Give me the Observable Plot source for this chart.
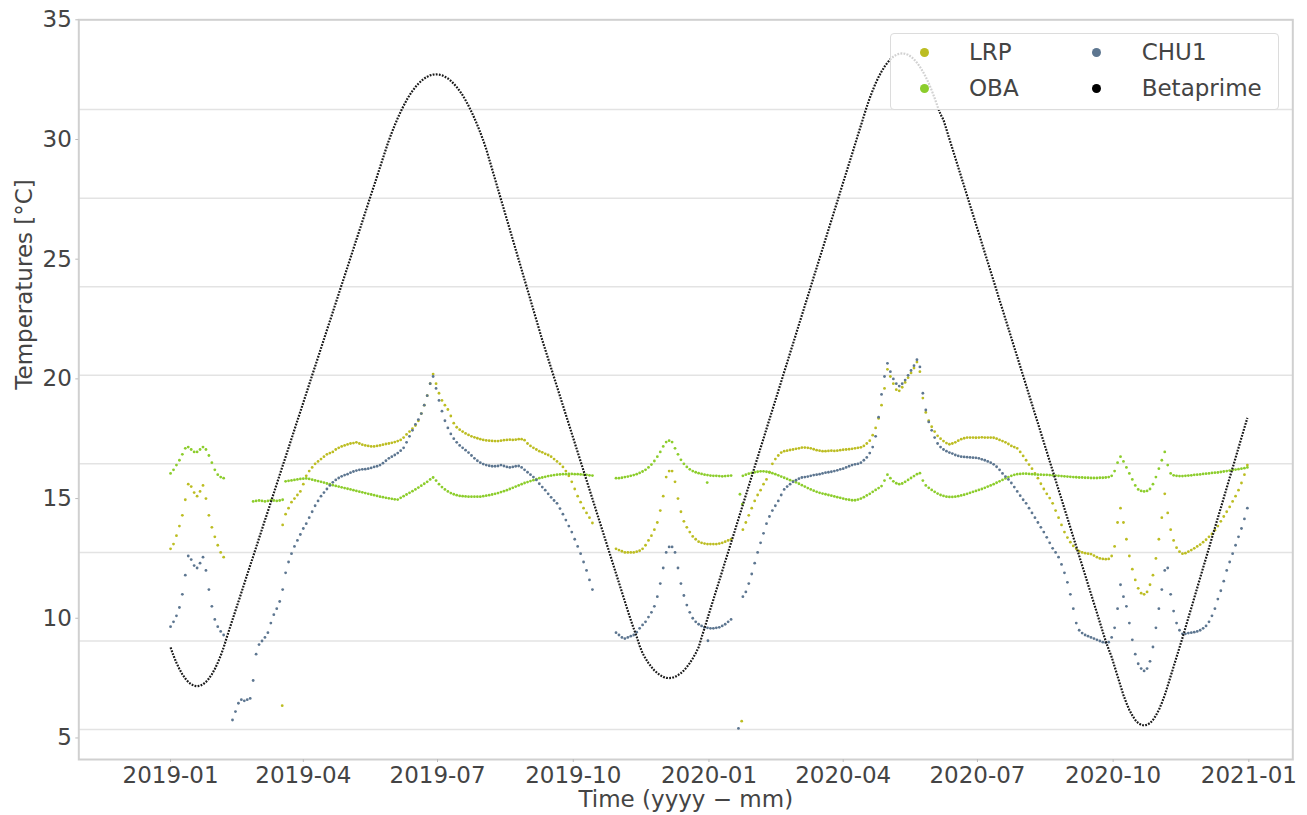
<!DOCTYPE html>
<html>
<head>
<meta charset="utf-8">
<script src="https://cdn.jsdelivr.net/npm/d3@7"></script>
<script src="https://cdn.jsdelivr.net/npm/@observablehq/plot@0.6"></script>
<style>
  html, body { margin: 0; padding: 0; background: #fff; }
  #wrap { position: relative; width: 1307px; height: 815px; overflow: hidden; font-family: "DejaVu Sans", sans-serif; }
  #legend { position: absolute; left: 890px; top: 33px; width: 389px; height: 77px; box-sizing: border-box;
            border: 1px solid #dcdcdc; border-radius: 4px; background: rgba(255,255,255,0.8); }
  .ldot { position: absolute; width: 9px; height: 9px; border-radius: 50%; }
  .ltxt { position: absolute; height: 28px; line-height: 28px; font-size: 23px; color: #444; white-space: nowrap; }
</style>
</head>
<body>
<div id="wrap"></div>
<script>
// ---------- data (readings every 2 days, day 0 = 2019-01-01) ----------
const SERIES = ["LRP", "OBA", "CHU1", "Betaprime"];
const COLORS = ["#bcbd22", "#8ccd2c", "#5d7690", "#000000"];
const X_TICKS = ["2019-01-01","2019-04-01","2019-07-01","2019-10-01","2020-01-01","2020-04-01","2020-07-01","2020-10-01","2021-01-01"];
const Y_TICKS = [5, 10, 15, 20, 25, 30, 35];
const GRID_VALUES = [5.35, 9.05, 12.75, 16.45, 20.15, 23.85, 27.55, 31.25];

const BETA_START = 0;
const BETA = [
  8.78, 8.44, 8.14, 7.88, 7.66, 7.48, 7.34, 7.24, 7.18, 7.16,
  7.18, 7.24, 7.34, 7.48, 7.66, 7.88, 8.14, 8.44, 8.78, 9.18,
  9.56, 9.94, 10.32, 10.69, 11.07, 11.45, 11.83, 12.21, 12.58, 12.96,
  13.34, 13.72, 14.1, 14.47, 14.85, 15.23, 15.61, 15.99, 16.37, 16.74,
  17.12, 17.5, 17.88, 18.26, 18.63, 19.01, 19.39, 19.77, 20.15, 20.52,
  20.9, 21.28, 21.66, 22.04, 22.41, 22.79, 23.17, 23.55, 23.93, 24.3,
  24.68, 25.06, 25.44, 25.82, 26.19, 26.57, 26.95, 27.33, 27.71, 28.08,
  28.46, 28.84, 29.22, 29.6, 29.96, 30.29, 30.6, 30.89, 31.16, 31.41,
  31.64, 31.85, 32.03, 32.19, 32.33, 32.45, 32.55, 32.62, 32.68, 32.71,
  32.72, 32.71, 32.68, 32.62, 32.55, 32.45, 32.33, 32.19, 32.03, 31.85,
  31.64, 31.41, 31.16, 30.89, 30.6, 30.29, 29.96, 29.6, 29.18, 28.76,
  28.34, 27.92, 27.5, 27.08, 26.66, 26.24, 25.82, 25.4, 24.98, 24.56,
  24.14, 23.72, 23.3, 22.88, 22.46, 22.04, 21.62, 21.23, 20.84, 20.45,
  20.06, 19.67, 19.28, 18.89, 18.5, 18.11, 17.72, 17.33, 16.94, 16.55,
  16.16, 15.77, 15.38, 14.99, 14.6, 14.21, 13.82, 13.43, 13.04, 12.65,
  12.26, 11.87, 11.48, 11.09, 10.7, 10.31, 9.93, 9.57, 9.23, 8.85,
  8.54, 8.32, 8.13, 7.96, 7.82, 7.71, 7.62, 7.55, 7.51, 7.5,
  7.51, 7.55, 7.62, 7.71, 7.82, 7.96, 8.13, 8.32, 8.54, 8.79,
  9.2, 9.59, 9.99, 10.39, 10.78, 11.18, 11.57, 11.97, 12.37, 12.76,
  13.16, 13.55, 13.95, 14.35, 14.74, 15.14, 15.53, 15.93, 16.33, 16.72,
  17.12, 17.51, 17.91, 18.31, 18.7, 19.1, 19.49, 19.89, 20.29, 20.68,
  21.08, 21.47, 21.87, 22.27, 22.66, 23.06, 23.45, 23.85, 24.25, 24.64,
  25.04, 25.43, 25.83, 26.23, 26.62, 27.02, 27.41, 27.81, 28.21, 28.6,
  29.0, 29.39, 29.79, 30.19, 30.58, 30.98, 31.37, 31.73, 32.05, 32.35,
  32.61, 32.84, 33.04, 33.21, 33.35, 33.46, 33.54, 33.58, 33.6, 33.58,
  33.54, 33.46, 33.35, 33.21, 33.04, 32.84, 32.61, 32.35, 32.05, 31.73,
  31.37, 31.05, 30.82, 30.42, 30.02, 29.63, 29.23, 28.84, 28.44, 28.05,
  27.65, 27.25, 26.86, 26.46, 26.07, 25.67, 25.27, 24.88, 24.48, 24.09,
  23.69, 23.29, 22.9, 22.5, 22.11, 21.71, 21.31, 20.92, 20.52, 20.13,
  19.73, 19.33, 18.94, 18.54, 18.15, 17.75, 17.35, 16.96, 16.56, 16.17,
  15.77, 15.37, 14.98, 14.58, 14.19, 13.79, 13.39, 13.0, 12.6, 12.21,
  11.81, 11.41, 11.02, 10.62, 10.23, 9.83, 9.43, 9.04, 8.7, 8.38,
  7.98, 7.58, 7.18, 6.79, 6.46, 6.17, 5.94, 5.75, 5.62, 5.55,
  5.52, 5.55, 5.62, 5.75, 5.94, 6.17, 6.46, 6.79, 7.18, 7.58,
  7.98, 8.38, 8.78, 9.18, 9.6, 10.02, 10.43, 10.85, 11.27, 11.69,
  12.11, 12.52, 12.94, 13.36, 13.78, 14.2, 14.61, 15.03, 15.45, 15.87,
  16.28, 16.7, 17.12, 17.54, 17.96, 18.37
];

const LRP_A_START = 0;
const LRP_A = [12.9, 13.1, 13.45, 13.85, 14.3, 14.95, 15.6, 15.5, 15.25, 15.1, 15.3, 15.55, 15.0, 14.3, 13.8, 13.4, 13.05, 12.75, 12.55];
const LRP_B_START = 76;
const LRP_B = [
  13.9, 14.35, 14.6, 14.85, 15.0, 15.15, 15.3, 15.6, 15.95, 16.15,
  16.3, 16.45, 16.55, 16.65, 16.75, 16.85, 16.9, 16.95, 17.05, 17.12,
  17.18, 17.22, 17.26, 17.3, 17.32, 17.35, 17.3, 17.25, 17.22, 17.2,
  17.18, 17.18, 17.2, 17.22, 17.25, 17.28, 17.3, 17.33, 17.36, 17.4,
  17.45, 17.55, 17.68, 17.8, 17.92, 18.05, 18.25, 18.55, 18.9, 19.3,
  19.8, 20.2, 19.8, 19.4, 19.1, 18.9, 18.72, 18.45, 18.15, 17.98,
  17.88, 17.8, 17.72, 17.66, 17.6, 17.56, 17.52, 17.48, 17.45, 17.43,
  17.42, 17.41, 17.4, 17.4, 17.42, 17.44, 17.45, 17.46, 17.45, 17.46,
  17.48, 17.48, 17.44, 17.3, 17.2, 17.12, 17.05, 16.98, 16.93, 16.87,
  16.82, 16.75, 16.65, 16.55, 16.45, 16.32, 16.15, 15.95, 15.7, 15.4,
  15.1, 14.85, 14.6, 14.4, 14.2, 13.98
];
const LRP_C_START = 302;
const LRP_C = [
  12.9, 12.85, 12.8, 12.75, 12.75, 12.75, 12.75, 12.78, 12.82, 12.9,
  13.05, 13.25, 13.45, 13.7, 14.0, 14.5, 15.1, 15.9, 16.15, 16.15,
  15.7, 15.0, 14.45, 14.05, 13.8, 13.6, 13.42, 13.3, 13.2, 13.15,
  13.12, 13.1, 13.1, 13.1, 13.1, 13.12, 13.15, 13.2, 13.25, 13.3
];
const LRP_D_START = 388;
const LRP_D = [
  13.7, 14.0, 14.3, 14.6, 14.9, 15.15, 15.35, 15.6, 15.8, 16.1,
  16.45, 16.65, 16.8, 16.92, 16.98, 17.0, 17.03, 17.05, 17.08, 17.1,
  17.13, 17.13, 17.12, 17.1, 17.06, 17.02, 17.0, 16.98, 16.98, 16.99,
  17.0, 16.99, 17.0, 17.02, 17.04, 17.05, 17.06, 17.08, 17.1, 17.12,
  17.14, 17.2, 17.3, 17.42, 17.65, 17.95, 18.35, 18.9, 19.6, 20.4,
  20.1, 19.8, 19.55, 19.5, 19.65, 19.85, 20.05, 20.25, 20.45, 20.7,
  20.3, 19.2, 18.6, 18.25, 18.0, 17.8, 17.62, 17.5, 17.4, 17.32,
  17.27, 17.3, 17.35, 17.42, 17.48, 17.52, 17.55, 17.55, 17.55, 17.54,
  17.55, 17.56, 17.55, 17.55, 17.55, 17.54, 17.5, 17.45, 17.4, 17.35,
  17.28, 17.2, 17.15, 17.1, 16.95, 16.78, 16.6, 16.42, 16.25, 16.05,
  15.85, 15.62, 15.4, 15.2, 15.02, 14.8, 14.5, 14.2, 13.9, 13.6,
  13.37, 13.18, 13.02, 12.9, 12.8, 12.75, 12.72, 12.7, 12.68, 12.62,
  12.55, 12.5, 12.48, 12.47, 12.48, 12.6, 13.0, 14.0, 14.6, 14.0,
  13.3, 12.6, 12.05, 11.6, 11.25, 11.05, 11.0, 11.1, 11.4, 11.8,
  12.5, 13.3, 14.2, 15.2, 14.4, 13.7, 13.25, 12.95, 12.78, 12.7,
  12.72, 12.78, 12.85, 12.92, 13.0, 13.08, 13.18, 13.28, 13.4, 13.52,
  13.68, 13.85, 14.05, 14.25, 14.45, 14.65, 14.88, 15.1, 15.35, 15.65,
  16.0, 16.4
];
const LRP_EXTRA_DAYS = [75.7, 387.2];
const LRP_EXTRA_VALUES = [6.35, 5.7];

const OBA_A_START = 0;
const OBA_A = [16.05, 16.2, 16.4, 16.6, 16.85, 17.1, 17.15, 17.05, 16.95, 16.95, 17.05, 17.15, 17.05, 16.8, 16.5, 16.2, 16.0, 15.9, 15.85];
const OBA_B_START = 56;
const OBA_B = [14.88, 14.9, 14.92, 14.9, 14.88, 14.9, 14.93, 14.92, 14.9, 14.92, 14.95];
const OBA_C_START = 78;
const OBA_C = [
  15.72, 15.74, 15.76, 15.78, 15.8, 15.82, 15.83, 15.84, 15.82, 15.79,
  15.76, 15.73, 15.7, 15.67, 15.63, 15.6, 15.56, 15.53, 15.5, 15.47,
  15.44, 15.41, 15.38, 15.35, 15.32, 15.29, 15.26, 15.23, 15.2, 15.17,
  15.14, 15.11, 15.08, 15.06, 15.03, 15.01, 14.99, 14.97, 14.96, 15.03,
  15.1, 15.17, 15.24, 15.31, 15.38, 15.46, 15.54, 15.62, 15.7, 15.8,
  15.88, 15.75, 15.6, 15.48, 15.38, 15.3, 15.23, 15.18, 15.14, 15.11,
  15.1, 15.09, 15.08, 15.08, 15.08, 15.08, 15.08, 15.1, 15.12, 15.14,
  15.17, 15.2, 15.23, 15.27, 15.31, 15.35, 15.4, 15.45, 15.5, 15.55,
  15.6, 15.65, 15.69, 15.73, 15.77, 15.81, 15.85, 15.88, 15.91, 15.94,
  15.96, 15.98, 16.0, 16.01, 16.02, 16.02, 16.03, 16.03, 16.02, 16.02,
  16.01, 16.0, 15.99, 15.97, 15.96
];
const OBA_D_START = 302;
const OBA_D = [
  15.85, 15.85, 15.87, 15.9, 15.92, 15.95, 15.98, 16.02, 16.07, 16.13,
  16.2, 16.3, 16.42, 16.57, 16.75, 16.95, 17.18, 17.36, 17.42, 17.36,
  17.1, 16.85, 16.62, 16.45, 16.32, 16.22, 16.15, 16.1, 16.06, 16.03,
  16.0, 15.98, 15.96, 15.95, 15.95, 15.94, 15.93, 15.94, 15.95, 15.96
];
const OBA_E_START = 388;
const OBA_E = [
  15.95, 16.0, 16.04, 16.07, 16.1, 16.12, 16.14, 16.14, 16.12, 16.1,
  16.06, 16.02, 15.97, 15.92, 15.87, 15.82, 15.77, 15.73, 15.68, 15.62,
  15.56, 15.5, 15.44, 15.38, 15.33, 15.28, 15.24, 15.21, 15.18, 15.15,
  15.12, 15.09, 15.06, 15.03, 15.0, 14.97, 14.95, 14.93, 14.93, 14.96,
  15.0, 15.06, 15.13, 15.2, 15.28, 15.36, 15.44, 15.52, 15.75, 16.0,
  15.85, 15.72, 15.64, 15.6, 15.63, 15.7, 15.78, 15.86, 15.94, 16.02,
  16.06, 15.75, 15.55, 15.45, 15.36, 15.28, 15.21, 15.15, 15.11, 15.08,
  15.07, 15.07, 15.08, 15.1, 15.13, 15.16, 15.2, 15.24, 15.28, 15.32,
  15.36, 15.4, 15.45, 15.5, 15.55, 15.6, 15.66, 15.72, 15.78, 15.84,
  15.9, 15.95, 15.99, 16.02, 16.03, 16.04, 16.04, 16.03, 16.02, 16.01,
  16.0, 16.0, 15.99, 15.99, 15.98, 15.97, 15.96, 15.95, 15.94, 15.93,
  15.92, 15.91, 15.9, 15.89, 15.88, 15.88, 15.87, 15.87, 15.86, 15.86,
  15.86, 15.87, 15.87, 15.88, 15.9, 15.95, 16.15, 16.5, 16.75, 16.55,
  16.3, 16.05, 15.8, 15.55, 15.38, 15.32, 15.3, 15.32, 15.4, 15.6,
  15.9, 16.25, 16.6, 16.95, 16.4, 16.05, 15.97, 15.95, 15.94, 15.94,
  15.95, 15.96, 15.97, 15.99, 16.0, 16.01, 16.03, 16.04, 16.05, 16.07,
  16.08, 16.09, 16.11, 16.13, 16.15, 16.17, 16.19, 16.21, 16.23, 16.25,
  16.27, 16.3
];
const OBA_EXTRA_DAYS = [363.8, 386, 387.6];
const OBA_EXTRA_VALUES = [15.67, 15.18, 14.77];

const CHU_A_START = 0;
const CHU_A = [9.65, 9.85, 10.1, 10.45, 11.0, 11.8, 12.6, 12.45, 12.2, 12.1, 12.3, 12.55, 12.0, 11.2, 10.5, 9.95, 9.65, 9.45, 9.3];
const CHU_B_START = 42;
const CHU_B = [
  5.75, 6.1, 6.45, 6.6, 6.55, 6.6, 6.65, 7.4, 8.5, 8.9,
  9.05, 9.2, 9.4, 9.8, 10.15, 10.4, 10.7, 11.2, 11.9, 12.35,
  12.7, 13.0, 13.25, 13.5, 13.75, 13.95, 14.2, 14.45, 14.7, 14.9,
  15.1, 15.25, 15.4, 15.55, 15.68, 15.78, 15.86, 15.93, 15.98, 16.02,
  16.08, 16.13, 16.17, 16.2, 16.22, 16.23, 16.25, 16.28, 16.32, 16.35,
  16.4, 16.48, 16.58, 16.68, 16.75, 16.82, 16.9, 17.0, 17.12, 17.35,
  17.6, 17.85, 18.1, 18.3, 18.55, 18.9, 19.3, 19.8, 20.1, 19.6,
  19.1, 18.65, 18.25, 17.95, 17.7, 17.5, 17.35, 17.22, 17.12, 17.02,
  16.92, 16.8, 16.68, 16.58, 16.5, 16.44, 16.4, 16.37, 16.35, 16.35,
  16.36, 16.4, 16.36, 16.32, 16.3, 16.32, 16.35, 16.36, 16.3, 16.2,
  16.1, 16.0, 15.9, 15.78, 15.62, 15.48, 15.35, 15.2, 15.05, 14.92,
  14.8, 14.58, 14.35, 14.1, 13.85, 13.6, 13.3, 13.0, 12.7, 12.35,
  12.0, 11.6, 11.2
];
const CHU_C_START = 302;
const CHU_C = [
  9.4, 9.3, 9.2, 9.15, 9.2, 9.25, 9.3, 9.42, 9.58, 9.72,
  9.85, 10.05, 10.25, 10.5, 10.9, 11.45, 12.1, 12.75, 12.98, 12.98,
  12.75, 12.1, 11.45, 10.95, 10.55, 10.25, 10.0, 9.85, 9.75, 9.68,
  9.62, 9.6, 9.58, 9.58, 9.6, 9.62, 9.68, 9.75, 9.85, 9.95
];
const CHU_D_START = 388;
const CHU_D = [
  10.9, 11.1, 11.45, 11.85, 12.3, 12.75, 13.15, 13.55, 13.95, 14.25,
  14.5, 14.7, 14.9, 15.15, 15.38, 15.5, 15.6, 15.7, 15.77, 15.83,
  15.88, 15.9, 15.92, 15.95, 15.98, 16.0, 16.02, 16.05, 16.08, 16.1,
  16.12, 16.15, 16.18, 16.22, 16.25, 16.3, 16.35, 16.4, 16.43, 16.45,
  16.5, 16.6, 16.72, 16.9, 17.15, 17.6, 18.4, 19.35, 20.1, 20.65,
  20.3, 20.0, 19.8, 19.7, 19.8, 19.95, 20.15, 20.35, 20.55, 20.8,
  20.5, 19.4, 18.7, 18.2, 17.85, 17.55, 17.3, 17.15, 17.05, 16.98,
  16.92, 16.88, 16.82, 16.78, 16.75, 16.74, 16.73, 16.72, 16.71, 16.7,
  16.68, 16.64, 16.6, 16.55, 16.5, 16.43, 16.33, 16.2, 16.05, 15.92,
  15.8, 15.65, 15.48, 15.3, 15.12, 14.95, 14.8, 14.6, 14.4, 14.2,
  14.0, 13.8, 13.6, 13.38, 13.15, 12.92, 12.75, 12.55, 12.25, 11.9,
  11.5, 11.0, 10.4, 9.8, 9.5, 9.38, 9.3, 9.25, 9.2, 9.15,
  9.1, 9.05, 9.0, 8.98, 9.0, 9.2, 9.6, 10.4, 11.4, 10.9,
  10.5, 9.8, 9.1, 8.5, 8.1, 7.9, 7.8, 7.9, 8.2, 8.8,
  9.6, 10.4, 11.2, 12.0, 12.1, 11.0, 10.3, 9.8, 9.5, 9.35,
  9.35, 9.38, 9.4, 9.42, 9.45, 9.5, 9.58, 9.68, 9.85, 10.1,
  10.4, 10.8, 11.15, 11.55, 12.0, 12.35, 12.7, 13.05, 13.4, 13.75,
  14.15, 14.6
];
const CHU_EXTRA_DAYS = [364.3, 385];
const CHU_EXTRA_VALUES = [9.06, 5.4];

// ---------- build tables ----------
const MS_DAY = 864e5;
const ORIGIN = Date.UTC(2019, 0, 1);
const STEP_DAYS = 2;
const toDate = d => new Date(ORIGIN + d * MS_DAY);
const seg = (series, start, values) => values.map((v, i) => ({series, date: toDate(start + i * STEP_DAYS), value: v}));
const extra = (series, days, values) => days.map((d, i) => ({series, date: toDate(d), value: values[i]}));

const lrp = [...seg("LRP", LRP_A_START, LRP_A), ...seg("LRP", LRP_B_START, LRP_B), ...seg("LRP", LRP_C_START, LRP_C),
             ...seg("LRP", LRP_D_START, LRP_D), ...extra("LRP", LRP_EXTRA_DAYS, LRP_EXTRA_VALUES)];
const oba = [...seg("OBA", OBA_A_START, OBA_A), ...seg("OBA", OBA_B_START, OBA_B), ...seg("OBA", OBA_C_START, OBA_C),
             ...seg("OBA", OBA_D_START, OBA_D), ...seg("OBA", OBA_E_START, OBA_E), ...extra("OBA", OBA_EXTRA_DAYS, OBA_EXTRA_VALUES)];
const chu = [...seg("CHU1", CHU_A_START, CHU_A), ...seg("CHU1", CHU_B_START, CHU_B), ...seg("CHU1", CHU_C_START, CHU_C),
             ...seg("CHU1", CHU_D_START, CHU_D), ...extra("CHU1", CHU_EXTRA_DAYS, CHU_EXTRA_VALUES)];
const beta = seg("Betaprime", BETA_START, BETA);

const dotOpts = (color) => ({x: "date", y: "value", r: 1.4, fill: color, stroke: "none"});

const chart = Plot.plot({
  width: 1307,
  height: 815,
  marginLeft: 78.3,
  marginRight: 14.7,
  marginTop: 19.3,
  marginBottom: 56,
  style: {fontFamily: "DejaVu Sans, sans-serif", fontSize: "23px", color: "#444", background: "white", overflow: "hidden"},
  x: {type: "utc", domain: [toDate(-62.2), toDate(760.8)]},
  y: {type: "linear", domain: [4.1, 35]},
  marks: [
    Plot.ruleY(GRID_VALUES, {stroke: "#e3e3e3", strokeWidth: 1.5}),
    Plot.dot(lrp, dotOpts(COLORS[0])),
    Plot.dot(oba, dotOpts(COLORS[1])),
    Plot.dot(chu, dotOpts(COLORS[2])),
    Plot.line(beta, {x: "date", y: "value", stroke: "#1a1a1a", strokeWidth: 2.2, strokeDasharray: "1.8,1.3", strokeLinecap: "butt"}),
    Plot.frame({stroke: "#d0d0d0", strokeWidth: 2}),
    Plot.axisX({
      ticks: X_TICKS.map(s => new Date(s + "T00:00Z")),
      tickFormat: d3.utcFormat("%Y-%m"),
      tickSize: 3, tickPadding: 4, stroke: "#bbb", fill: "#444", fontSize: 23, label: null
    }),
    Plot.axisY({ticks: Y_TICKS, tickSize: 3, tickPadding: 4, stroke: "#bbb", fill: "#444", fontSize: 23, label: null}),
    Plot.text(["Temperatures [°C]"], {text: d => d, frameAnchor: "left", rotate: -90, dx: -47, lineAnchor: "bottom", fontSize: 23, fill: "#444"}),
    Plot.text(["Time (yyyy − mm)"], {text: d => d, frameAnchor: "bottom", dy: 31, lineAnchor: "top", fontSize: 23, fill: "#444"})
  ]
});

const wrap = document.getElementById("wrap");
wrap.appendChild(chart);

// legend (overlay inside the plot frame, like the original)
const legend = document.createElement("div");
legend.id = "legend";
const LEGEND_ITEMS = [
  {label: SERIES[0], color: COLORS[0], col: 0, row: 0},
  {label: SERIES[1], color: COLORS[1], col: 0, row: 1},
  {label: SERIES[2], color: COLORS[2], col: 1, row: 0},
  {label: SERIES[3], color: COLORS[3], col: 1, row: 1}
];
const colDot = [34.3, 206.7], colTxt = [79, 251.7], rowY = [19.3, 55.3];
for (const it of LEGEND_ITEMS) {
  const dot = document.createElement("div");
  dot.className = "ldot";
  dot.style.background = it.color;
  dot.style.left = (colDot[it.col] - 4.5 - 1) + "px";
  dot.style.top = (rowY[it.row] - 4.5 - 1) + "px";
  legend.appendChild(dot);
  const txt = document.createElement("div");
  txt.className = "ltxt";
  txt.textContent = it.label;
  txt.style.left = (colTxt[it.col] - 1) + "px";
  txt.style.top = (rowY[it.row] - 14 - 1) + "px";
  legend.appendChild(txt);
}
wrap.appendChild(legend);
</script>
</body>
</html>
